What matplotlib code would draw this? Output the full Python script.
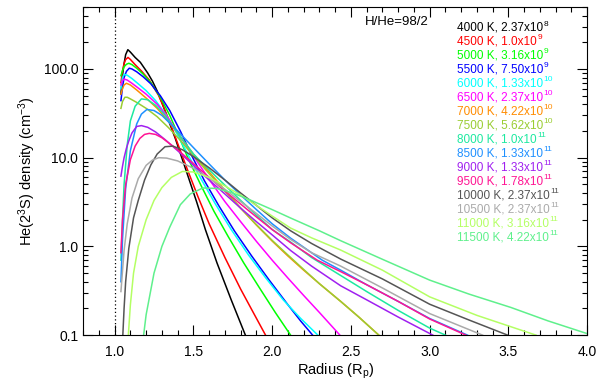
import matplotlib
matplotlib.use("Agg")
import matplotlib.pyplot as plt
from matplotlib.ticker import FixedLocator, FixedFormatter, MultipleLocator, LogLocator, NullFormatter

plt.rcParams['font.family'] = ['Liberation Sans', 'DejaVu Sans']
plt.rcParams['mathtext.fontset'] = 'custom'
plt.rcParams['mathtext.rm'] = 'Liberation Sans'
plt.rcParams['mathtext.it'] = 'Liberation Sans:italic'

# temperatures, mass-loss rates and colours of the models
temps = [4000, 4500, 5000, 5500, 6000, 6500, 7000, 7500,
         8000, 8500, 9000, 9500, 10000, 10500, 11000, 11500]
rate_mant = ['2.37', '1.0', '3.16', '7.50', '1.33', '2.37', '4.22', '5.62',
             '1.0', '1.33', '1.33', '1.78', '2.37', '2.37', '3.16', '4.22']
rate_exp = [8, 9, 9, 9, 10, 10, 10, 10, 11, 11, 11, 11, 11, 11, 11, 11]
colors = ['black', 'red', '#00ff00', '#0000ff', '#00ffff', '#ff00ff', '#ff8c00', '#9acd32',
          '#1de9a0', '#1e90ff', '#a020f0', '#ff1493', '#555555', '#aaaaaa', '#b4ff64', '#5ff08c']

# radius (Rp) and He(2^3S) density (cm^-3)
r4000 = [1.04, 1.05, 1.06, 1.07, 1.084, 1.10, 1.13, 1.163, 1.21, 1.24, 1.269, 1.30, 1.33, 1.385, 1.45, 1.52, 1.576, 1.65, 1.74, 1.83]
n4000 = [52, 85, 115, 145, 165, 155, 135, 119, 90, 73, 57, 42, 30, 16.5, 7.5, 3.2, 1.55, 0.65, 0.25, 0.1]
r4500 = [1.04, 1.05, 1.06, 1.07, 1.085, 1.10, 1.13, 1.17, 1.22, 1.28, 1.34, 1.40, 1.46, 1.53, 1.60, 1.70, 1.80, 1.88, 1.958]
n4500 = [70, 95, 115, 128, 135, 128, 112, 95, 75, 50, 28, 14.5, 7.5, 3.6, 1.8, 0.75, 0.33, 0.18, 0.1]
r5000 = [1.04, 1.05, 1.06, 1.075, 1.09, 1.11, 1.14, 1.18, 1.23, 1.29, 1.35, 1.41, 1.47, 1.55, 1.63, 1.72, 1.82, 1.92, 2.02, 2.117]
n5000 = [84, 96, 106, 113, 116, 112, 102, 88, 70, 48, 30, 17, 9.5, 4.8, 2.5, 1.3, 0.65, 0.34, 0.18, 0.1]
r5500 = [1.04, 1.05, 1.06, 1.075, 1.093, 1.11, 1.14, 1.18, 1.23, 1.29, 1.35, 1.42, 1.49, 1.57, 1.66, 1.76, 1.87, 1.98, 2.1, 2.18, 2.257]
n5500 = [44, 62, 80, 94, 102, 100, 93, 82, 68, 50, 34, 19.5, 10.5, 5.5, 2.9, 1.5, 0.78, 0.42, 0.22, 0.145, 0.1]
r6000 = [1.04, 1.05, 1.06, 1.08, 1.11, 1.15, 1.2, 1.26, 1.33, 1.40, 1.47, 1.55, 1.64, 1.74, 1.85, 1.96, 2.07, 2.18, 2.29]
n6000 = [60, 80, 87, 85, 78, 68, 57, 44, 30, 18, 10.5, 5.7, 3.0, 1.55, 0.8, 0.44, 0.25, 0.155, 0.1]
r6500 = [1.04, 1.05, 1.06, 1.08, 1.11, 1.15, 1.2, 1.27, 1.34, 1.41, 1.5, 1.6, 1.7, 1.8, 1.9, 2.0, 2.1, 2.2, 2.3, 2.43]
n6500 = [66, 74, 77, 75, 69, 61, 52, 40, 28, 18, 10.5, 5.7, 3.2, 1.9, 1.14, 0.70, 0.44, 0.28, 0.18, 0.1]
r7000 = [1.04, 1.05, 1.06, 1.075, 1.10, 1.14, 1.2, 1.27, 1.34, 1.42, 1.5, 1.6, 1.7, 1.8, 1.9, 2.0, 2.1, 2.2, 2.3, 2.435, 2.55, 2.677]
n7000 = [52, 60, 66, 69, 66, 58, 47, 36, 26, 17, 11, 6.9, 4.3, 2.7, 1.74, 1.15, 0.78, 0.54, 0.38, 0.24, 0.16, 0.1]
r7500 = [1.04, 1.05, 1.065, 1.08, 1.10, 1.14, 1.2, 1.27, 1.34, 1.42, 1.5, 1.6, 1.7, 1.8, 1.9, 2.0, 2.1, 2.2, 2.3, 2.435, 2.55, 2.677]
n7500 = [36, 43, 48, 48, 46, 42, 36, 29, 22, 15.5, 10.5, 6.6, 4.2, 2.7, 1.76, 1.17, 0.8, 0.55, 0.38, 0.24, 0.16, 0.1]
r8000 = [1.04, 1.05, 1.06, 1.08, 1.10, 1.13, 1.17, 1.21, 1.26, 1.32, 1.40, 1.5, 1.6, 1.7, 1.8, 1.9, 2.0, 2.117, 2.25, 2.435, 2.6, 2.8, 3.0, 3.1]
n8000 = [0.7, 2.0, 5.0, 14, 26, 38, 46, 45, 39, 30, 19, 11, 7.3, 4.9, 3.3, 2.25, 1.55, 1.12, 0.75, 0.47, 0.31, 0.19, 0.12, 0.1]
r8500 = [1.04, 1.05, 1.07, 1.10, 1.14, 1.17, 1.205, 1.25, 1.3, 1.4, 1.5, 1.6, 1.7, 1.8, 1.9, 2.0, 2.117, 2.318, 2.435, 2.6, 2.8, 3.0, 3.24]
n8500 = [0.4, 1.2, 4.5, 12, 24, 31, 35, 34, 30, 20, 13, 8.5, 5.6, 3.8, 2.6, 1.8, 1.24, 0.70, 0.54, 0.37, 0.24, 0.154, 0.1]
r9000 = [1.04, 1.05, 1.06, 1.075, 1.09, 1.11, 1.14, 1.17, 1.21, 1.26, 1.32, 1.4, 1.5, 1.6, 1.7, 1.8, 1.9, 2.0, 2.117, 2.25, 2.435, 2.6, 2.8, 3.02]
n9000 = [6.2, 8.0, 10.0, 12.8, 15.5, 19, 22.5, 23, 22, 19.5, 16, 12, 8.2, 5.6, 3.9, 2.7, 1.9, 1.35, 0.9, 0.6, 0.36, 0.25, 0.16, 0.1]
r9500 = [1.04, 1.05, 1.07, 1.10, 1.13, 1.16, 1.19, 1.22, 1.26, 1.3, 1.4, 1.5, 1.6, 1.7, 1.8, 1.9, 2.0, 2.117, 2.286, 2.435, 2.6, 2.8, 3.0, 3.23]
n9500 = [0.85, 2.0, 5.0, 9.5, 13.5, 16.5, 18.3, 18.8, 18.3, 16.8, 12.3, 8.6, 6.0, 4.2, 3.0, 2.15, 1.55, 1.1, 0.70, 0.52, 0.37, 0.24, 0.152, 0.1]
r10000 = [1.052, 1.06, 1.07, 1.09, 1.12, 1.15, 1.19, 1.23, 1.27, 1.32, 1.37, 1.43, 1.5, 1.6, 1.7, 1.8, 1.9, 2.0, 2.117, 2.25, 2.435, 2.7, 3.0, 3.25, 3.495]
n10000 = [0.1, 0.2, 0.4, 0.95, 2.1, 3.3, 5.6, 8.3, 11, 13.3, 13.5, 12.3, 10.3, 7.7, 5.6, 4.0, 2.9, 2.1, 1.5, 1.08, 0.72, 0.43, 0.223, 0.148, 0.1]
r10500 = [1.04, 1.06, 1.08, 1.11, 1.15, 1.2, 1.24, 1.28, 1.33, 1.4, 1.5, 1.6, 1.7, 1.8, 1.9, 2.0, 2.117, 2.25, 2.435, 2.7, 3.0, 3.336]
n10500 = [0.31, 0.9, 1.8, 3.5, 5.8, 8.2, 9.4, 10, 9.9, 9.2, 7.6, 5.9, 4.4, 3.2, 2.35, 1.7, 1.2, 0.85, 0.6, 0.34, 0.175, 0.1]
r11000 = [1.087, 1.1, 1.12, 1.15, 1.2, 1.25, 1.3, 1.36, 1.43, 1.5, 1.6, 1.7, 1.8, 1.9, 2.0, 2.117, 2.25, 2.435, 2.7, 3.0, 3.3, 3.675]
n11000 = [0.1, 0.22, 0.5, 1.0, 2.0, 3.3, 4.6, 6.0, 7.0, 6.9, 6.0, 4.8, 3.8, 2.9, 2.2, 1.61, 1.25, 0.91, 0.54, 0.27, 0.167, 0.1]
r11500 = [1.184, 1.2, 1.25, 1.3, 1.35, 1.417, 1.48, 1.56, 1.65, 1.75, 1.85, 2.0, 2.117, 2.3, 2.435, 2.7, 3.0, 3.25, 3.516, 3.75, 4.0]
n11500 = [0.1, 0.17, 0.5, 1.0, 1.65, 2.95, 3.9, 4.56, 4.5, 4.0, 3.4, 2.6, 2.09, 1.5, 1.16, 0.716, 0.417, 0.29, 0.205, 0.145, 0.104]

radii = [r4000, r4500, r5000, r5500, r6000, r6500, r7000, r7500,
         r8000, r8500, r9000, r9500, r10000, r10500, r11000, r11500]
dens = [n4000, n4500, n5000, n5500, n6000, n6500, n7000, n7500,
        n8000, n8500, n9000, n9500, n10000, n10500, n11000, n11500]

fig = plt.figure(figsize=(5.98, 3.87), dpi=100)
ax = fig.add_axes([0.139, 0.134, 0.843, 0.848])

for r, n, c in zip(radii, dens, colors):
    ax.plot(r, n, color=c, lw=1.1)

ax.axvline(1.0, color='black', linestyle=(0, (1, 2)), lw=0.9)

ax.set_xlim(0.8, 4.0)
ax.set_yscale('log')
ax.set_ylim(0.1, 500)

ax.xaxis.set_minor_locator(MultipleLocator(0.1))
ax.set_xticks([1.0, 1.5, 2.0, 2.5, 3.0, 3.5, 4.0])
ax.set_xticklabels(['1.0', '1.5', '2.0', '2.5', '3.0', '3.5', '4.0'])
ax.yaxis.set_major_locator(FixedLocator([0.1, 1, 10, 100]))
ax.yaxis.set_major_formatter(FixedFormatter(['0.1', '1.0', '10.0', '100.0']))
ax.yaxis.set_minor_locator(LogLocator(base=10, subs=range(2, 10)))
ax.yaxis.set_minor_formatter(NullFormatter())

ax.tick_params(which='both', direction='in', top=True, right=True, width=0.8, labelsize=10)
ax.tick_params(which='major', length=7)
ax.tick_params(which='minor', length=3.5)
ax.tick_params(axis='x', pad=7)
for s in ax.spines.values():
    s.set_linewidth(0.8)

ax.set_xlabel('Radius (R$_{\\rm p}$)', fontsize=10.5, labelpad=2)
ax.set_ylabel('He(2$^{3}$S) density (cm$^{-3}$)', fontsize=10.5, labelpad=4)

fig.text(365 / 598, 1 - 22 / 387, 'H/He=98/2', fontsize=9.5, va='center', ha='left')

# legend lines: main text plus a raised, smaller exponent
fig.canvas.draw()
renderer = fig.canvas.get_renderer()
for i, (t, m, e, c) in enumerate(zip(temps, rate_mant, rate_exp, colors)):
    y = 1 - (28 + 13.99 * i) / 387
    txt = fig.text(457 / 598, y, f'{t} K, {m}x10', color=c, fontsize=8.5, va='center', ha='left')
    bb = txt.get_window_extent(renderer)
    fig.text((bb.x1 + 0.5) / 598, y + 4.0 / 387, str(e), color=c, fontsize=6, va='center', ha='left')

fig.savefig('out.png', dpi=100)
